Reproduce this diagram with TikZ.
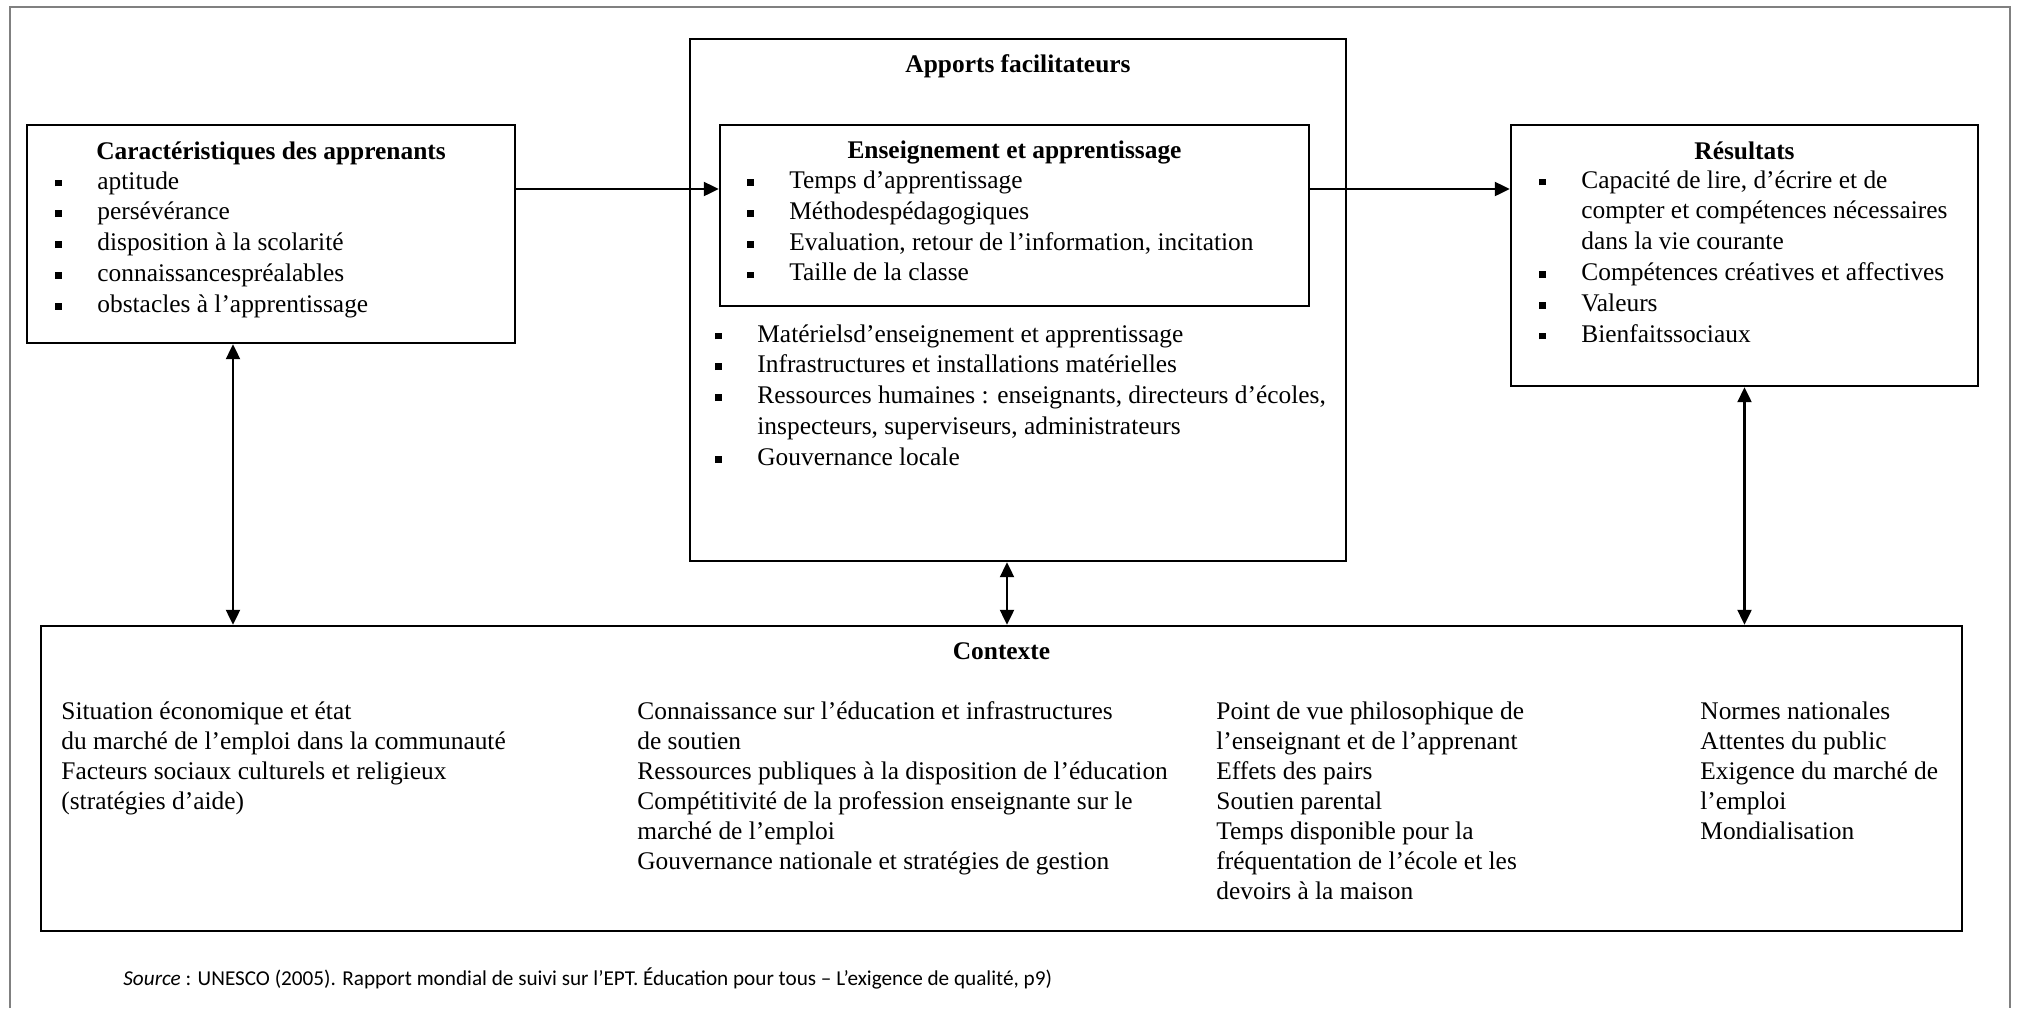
\documentclass[tikz,border=0pt]{standalone}
\usepackage{fontspec}
\setmainfont{Liberation Serif}
\newfontfamily\notefont{Carlito}
\usetikzlibrary{arrows.meta}

\newcommand{\puce}{\rule[1.3pt]{3.4pt}{3.4pt}}
\newcommand{\liste}[1]{\begin{tabular}[t]{@{}l@{\hspace{17.6pt}}l@{}}#1\end{tabular}}
\newcommand{\colonne}[1]{\begin{tabular}[t]{@{}l@{}}#1\end{tabular}}

\tikzset{
	boite/.style={draw, line width=1.2pt, inner sep=0pt},
	titre/.style={anchor=base, inner sep=0pt, font=\fontsize{12.7}{15.4}\selectfont\bfseries},
	texte/.style={anchor=base west, inner sep=0pt, font=\fontsize{12.7}{15.4}\selectfont},
	ctx/.style={anchor=base west, inner sep=0pt, font=\fontsize{12.7}{15}\selectfont},
	fleche/.style={line width=1.1pt, -{Triangle[length=7.5pt,width=7pt]}},
	fleches/.style={line width=1.1pt, {Triangle[length=7.5pt,width=7pt]}-{Triangle[length=7.5pt,width=7pt]}},
	cadre/.style={draw=black!50, line width=1pt}
}

\begin{document}
\begin{tikzpicture}[x=0.5pt,y=-0.5pt]
	\useasboundingbox (0,0) rectangle (2018,1008);
	\draw[cadre] (10,1008) |- (2010,7) -- (2010,1008);

	\node[boite, minimum width=244pt, minimum height=109pt] (apprenants) at (271,234) {};
	\node[boite, minimum width=328pt, minimum height=261pt] (apports) at (1018,300) {};
	\node[boite, minimum width=294.5pt, minimum height=90.5pt] (enseignement) at (1014.5,215.5) {};
	\node[boite, minimum width=233.5pt, minimum height=130.5pt] (resultats) at (1744.5,255.5) {};
	\node[boite, minimum width=960.5pt, minimum height=152.5pt] (contexte) at (1001.5,778.5) {};

	\node[titre] (t-apprenants) at (271,159) {Caractéristiques des apprenants};
	\node[texte] (l-apprenants) at (55,189) {\liste{\puce & aptitude\\ \puce & persévérance\\ \puce & disposition à la scolarité\\ \puce & connaissancespréalables\\ \puce & obstacles à l’apprentissage}};

	\node[titre] (t-apports) at (1018,72) {Apports facilitateurs};
	\node[titre] (t-enseignement) at (1014.5,158) {Enseignement et apprentissage};
	\node[texte] (l-enseignement) at (747,188.5) {\liste{\puce & Temps d’apprentissage\\ \puce & Méthodespédagogiques\\ \puce & Evaluation, retour de l’information, incitation\\ \puce & Taille de la classe}};
	\node[texte] (l-apports) at (715,342) {\liste{\puce & Matérielsd’enseignement et apprentissage\\ \puce & Infrastructures et installations matérielles\\ \puce & Ressources humaines : enseignants, directeurs d’écoles,\\ & inspecteurs, superviseurs, administrateurs\\ \puce & Gouvernance locale}};

	\node[titre] (t-resultats) at (1744.5,159) {Résultats};
	\node[texte] (l-resultats) at (1539,188) {\liste{\puce & Capacité de lire, d’écrire et de\\ & compter et compétences nécessaires\\ & dans la vie courante\\ \puce & Compétences créatives et affectives\\ \puce & Valeurs\\ \puce & Bienfaitssociaux}};

	\node[titre] (t-contexte) at (1001.5,659) {Contexte};
	\node[ctx] (c1) at (61,719) {\colonne{Situation économique et état\\ du marché de l’emploi dans la communauté\\ Facteurs sociaux culturels et religieux\\ (stratégies d’aide)}};
	\node[ctx] (c2) at (637,719) {\colonne{Connaissance sur l’éducation et infrastructures\\ de soutien\\ Ressources publiques à la disposition de l’éducation\\ Compétitivité de la profession enseignante sur le\\ marché de l’emploi\\ Gouvernance nationale et stratégies de gestion}};
	\node[ctx] (c3) at (1216,719) {\colonne{Point de vue philosophique de\\ l’enseignant et de l’apprenant\\ Effets des pairs\\ Soutien parental\\ Temps disponible pour la\\ fréquentation de l’école et les\\ devoirs à la maison}};
	\node[ctx] (c4) at (1700,719) {\colonne{Normes nationales\\ Attentes du public\\ Exigence du marché de\\ l’emploi\\ Mondialisation}};

	\node[anchor=base west, inner sep=0pt, font=\notefont\fontsize{10.6}{12}\selectfont] (source) at (123,985) {\textit{Source} : UNESCO (2005). Rapport mondial de suivi sur l’EPT. Éducation pour tous – L’exigence de qualité, p9)};

	\coordinate (niveau) at (0,189);
	\coordinate (gauche) at (233,0);
	\coordinate (milieu) at (1007,0);
	\draw[fleche] (apprenants.east |- niveau) -- (enseignement.west |- niveau);
	\draw[fleche] (enseignement.east |- niveau) -- (resultats.west |- niveau);
	\draw[fleches] (apprenants.south -| gauche) -- (contexte.north -| gauche);
	\draw[fleches] (apports.south -| milieu) -- (contexte.north -| milieu);
	\draw[fleches] (resultats.south) -- (contexte.north -| resultats.south);
\end{tikzpicture}
\end{document}
